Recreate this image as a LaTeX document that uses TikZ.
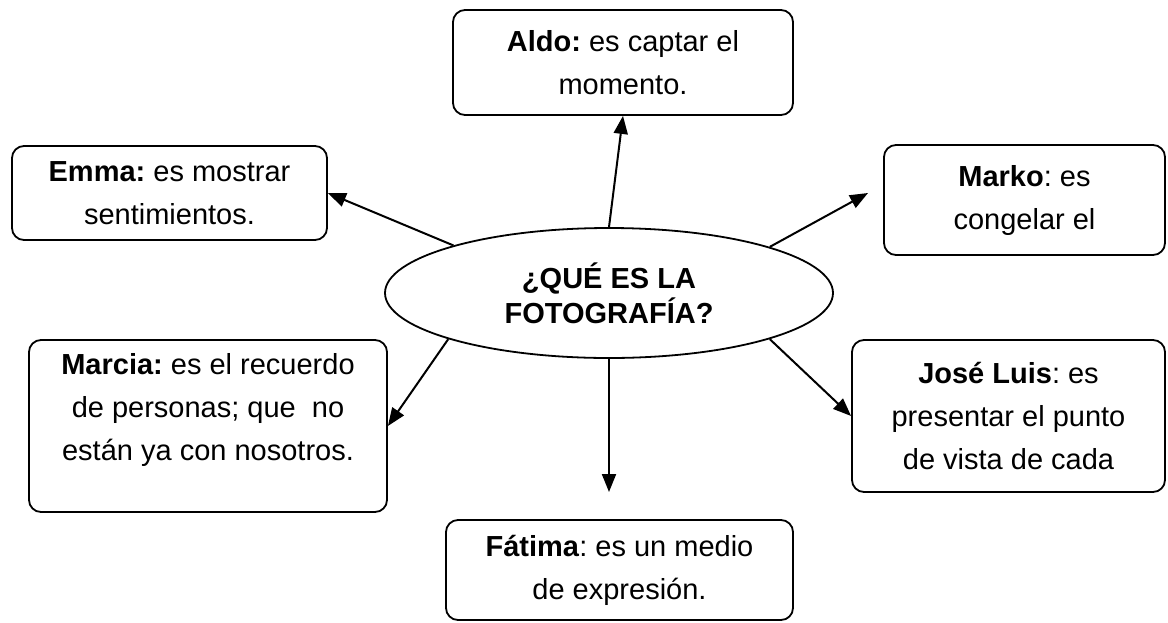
\documentclass[tikz,border=0pt]{standalone}
\usepackage{fontspec}
\setmainfont{Liberation Sans}
\usetikzlibrary{arrows.meta,shapes.geometric}
\frenchspacing
\begin{document}
\begin{tikzpicture}[x=0.5pt,y=-0.5pt,
  box/.style={draw, line width=0.9pt, rounded corners=6pt, align=center,
    font=\fontsize{14.5pt}{21.5pt}\selectfont, inner sep=0pt},
  txt/.style={align=center, font=\fontsize{14.5pt}{21.5pt}\selectfont, inner sep=0pt},
  centre/.style={draw, ellipse, line width=0.9pt, inner sep=0pt, align=center,
    font=\fontsize{14.5pt}{17.5pt}\selectfont\bfseries,
    minimum width=224pt, minimum height=65pt},
  arr/.style={line width=1pt, -{Triangle[length=9pt,width=7pt]}}]
\useasboundingbox (0,0) rectangle (1168,622);

\node[centre] (c) at (609,293) {¿QUÉ ES LA\\FOTOGRAFÍA?};

\node[box, minimum width=170pt, minimum height=52.5pt] (aldo) at (623,62.5)
  {\textbf{Aldo:} es captar el\\momento.};
\node[box, minimum width=157.5pt, minimum height=47pt] (emma) at (169.5,193)
  {\textbf{Emma:} es mostrar\\sentimientos.};
\node[box, minimum width=140.5pt, minimum height=55pt] (marko) at (1024.5,200)
  {\textbf{Marko}: es\\congelar el};
\node[box, minimum width=179pt, minimum height=86pt] (marcia) at (208,426) {};
\node[txt] (marciatext) at (208,410)
  {\textbf{Marcia:} es el recuerdo\\de personas; que\ \ no\\están ya con nosotros.};
\node[box, minimum width=156.5pt, minimum height=76pt] (jose) at (1008.5,416)
  {\textbf{José Luis}: es\\presentar el punto\\de vista de cada};
\node[box, minimum width=173.5pt, minimum height=50pt] (fatima) at (619.5,570)
  {\textbf{Fátima}: es un medio\\de expresión.};

\coordinate (mk) at (868,193);
\coordinate (ft) at (609,492);

\draw[arr] (c.north) -- (aldo.south);
\draw[arr] (c.163.6) -- (emma.east);
\draw[arr] (c.16.2) -- (mk);
\draw[arr] (c.196.7) -- (marcia.east);
\draw[arr] (c.344.1) -- (jose.west);
\draw[arr] (c.south) -- (ft);
\end{tikzpicture}
\end{document}
